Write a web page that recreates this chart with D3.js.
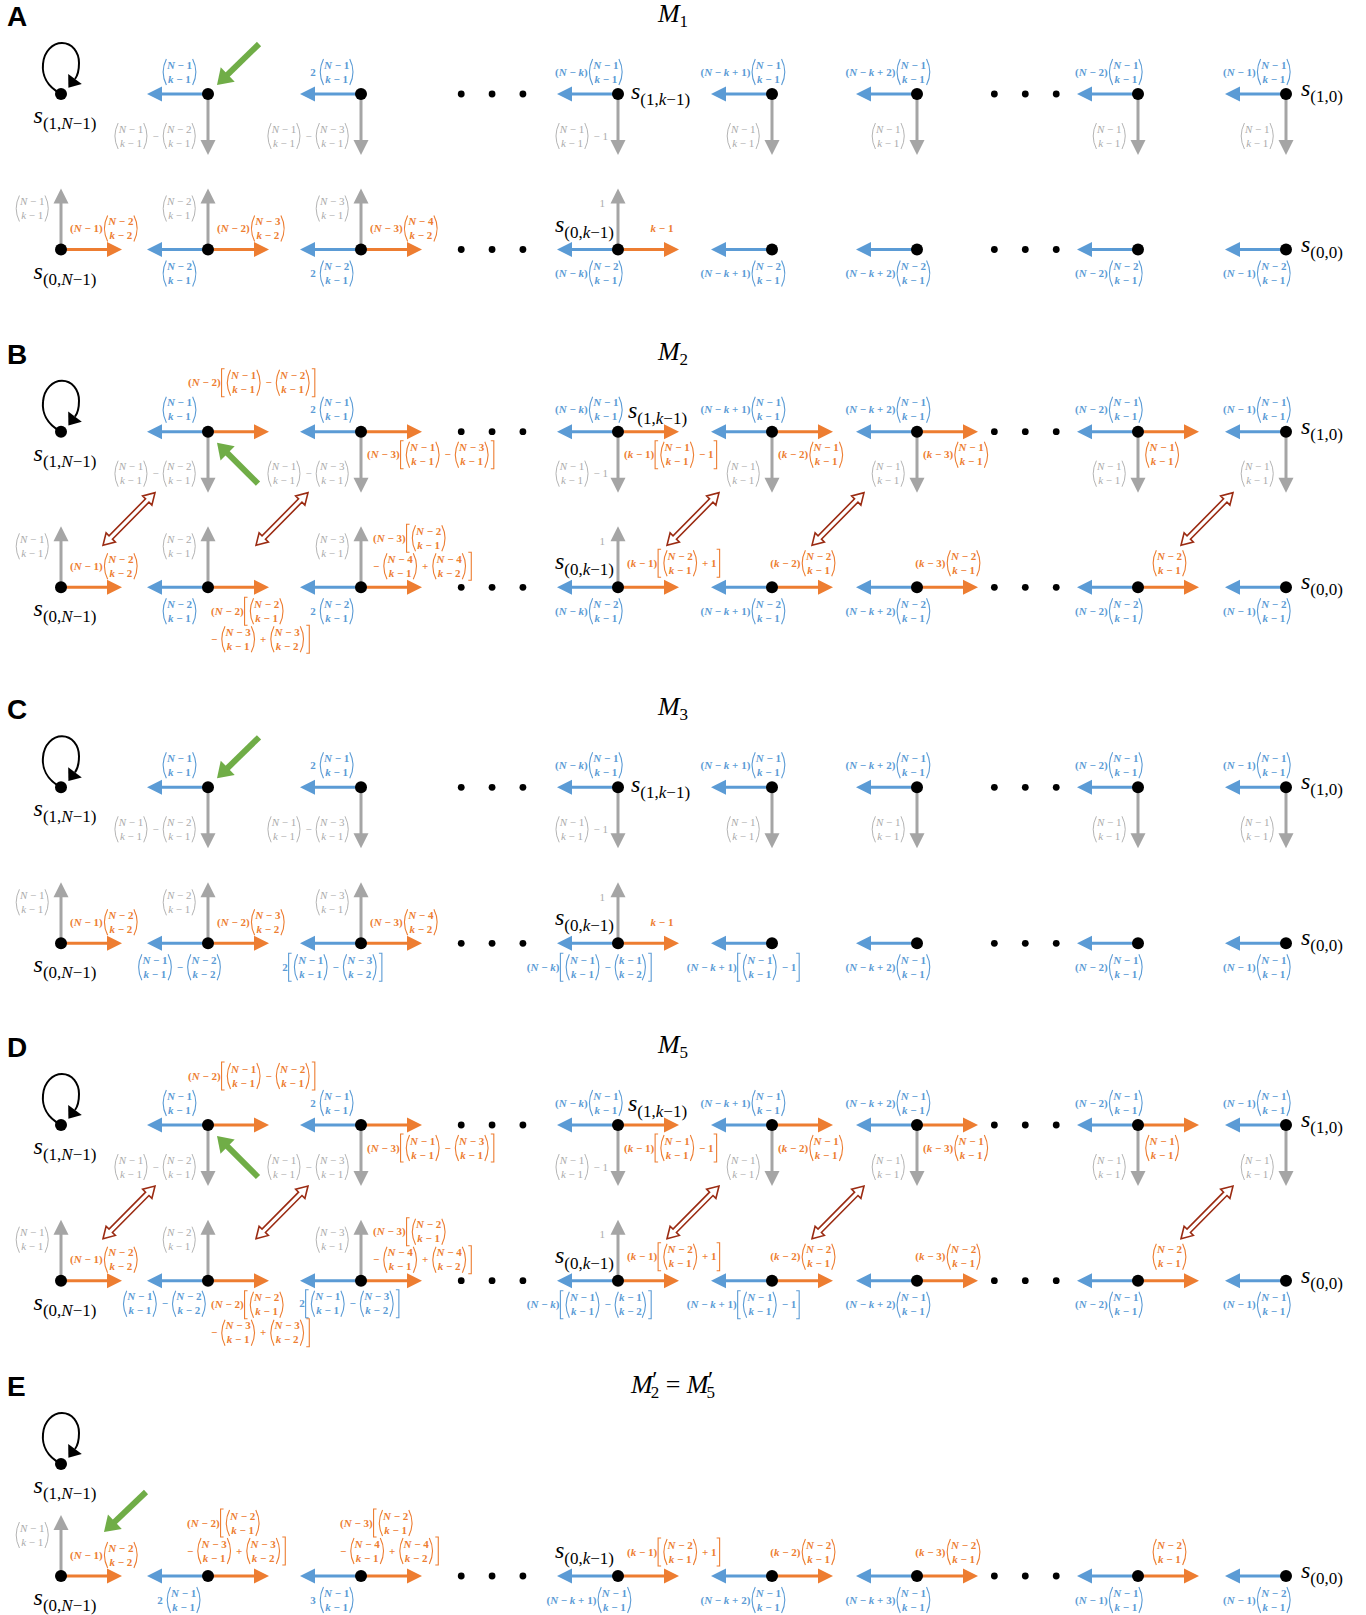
<!DOCTYPE html>
<html>
<head>
<meta charset="utf-8">
<script src="https://cdn.jsdelivr.net/npm/d3@7"></script>
<style>
  html, body { margin: 0; padding: 0; background: #fff; }
  svg text { white-space: pre; }
</style>
</head>
<body>
<svg id="fig" width="1366" height="1615"></svg>
<script>
// ---------------- data ----------------
const panelIds = ["A", "B", "C", "D", "E"];
const titleSubs = ["1", "2", "3", "5", null];          // M_i ; E carries M'2 = M'5
const columns = ["N−1", "N−2", "N−3", "k−1", "k−2", "k−3", "1", "0"];

// arrows leaving each state: O self loop, L blue (left), R orange (right), D/U grey (down/up)
const topArrows = [
  ["O", "LD", "LD", "LD", "LD", "LD", "LD", "LD"],
  ["O", "LRD", "LRD", "LRD", "LRD", "LRD", "LRD", "LD"],
  ["O", "LD", "LD", "LD", "LD", "LD", "LD", "LD"],
  ["O", "LRD", "LRD", "LRD", "LRD", "LRD", "LRD", "LD"],
  ["O", null, null, null, null, null, null, null]
];
const bottomArrows = [
  ["UR", "ULR", "ULR", "ULR", "L", "L", "L", "L"],
  ["UR", "ULR", "ULR", "ULR", "LR", "LR", "LR", "L"],
  ["UR", "ULR", "ULR", "ULR", "L", "L", "L", "L"],
  ["UR", "ULR", "ULR", "ULR", "LR", "LR", "LR", "L"],
  ["UR", "LR", "LR", "LR", "LR", "LR", "LR", "L"]
];

// paired transitions (left column, right column)
const pairedCols = [[0, 1], [1, 2], [3, 4], [4, 5], [6, 7]];
const pairedPanels = [false, true, false, true, false];
// highlighted state per panel: row, column, approach
const highlight = [["t", 1, "ne"], ["t", 1, "se"], ["t", 1, "ne"], ["t", 1, "se"], ["b", 0, "far"]];

// state names: row, column, placement, subscript
const stateNames4 = [
  ["t", 0, "below", "(1,N−1)"], ["b", 0, "below", "(0,N−1)"],
  ["b", 3, "leftUp", "(0,k−1)"], ["t", 7, "right0", "(1,0)"], ["b", 7, "right0", "(0,0)"]
];
const stateNamesE = [
  ["t", 0, "below", "(1,N−1)"], ["b", 0, "below", "(0,N−1)"],
  ["b", 3, "leftUp", "(0,k−1)"], ["b", 7, "right0", "(0,0)"]
];

// rate labels: row, column, placement, expression ({a;b} = binomial)
const topRates = [
  ["t", 1, "bUp", "{N − 1;k − 1}"],
  ["t", 1, "gDown", "{N − 1;k − 1} − {N − 2;k − 1}"],
  ["t", 2, "bUp", "2 {N − 1;k − 1}"],
  ["t", 2, "gDown", "{N − 1;k − 1} − {N − 3;k − 1}"],
  ["t", 3, "bUp", "(N − k){N − 1;k − 1}"],
  ["t", 3, "gDown", "{N − 1;k − 1} − 1"],
  ["t", 4, "bUp", "(N − k + 1){N − 1;k − 1}"],
  ["t", 4, "gDown", "{N − 1;k − 1}"],
  ["t", 5, "bUp", "(N − k + 2){N − 1;k − 1}"],
  ["t", 5, "gDown", "{N − 1;k − 1}"],
  ["t", 6, "bUp", "(N − 2){N − 1;k − 1}"],
  ["t", 6, "gDown", "{N − 1;k − 1}"],
  ["t", 7, "bUp", "(N − 1){N − 1;k − 1}"],
  ["t", 7, "gDown", "{N − 1;k − 1}"]
];
const topRatesRight = [
  ["t", 1, "oHigh", "(N − 2)[{N − 1;k − 1} − {N − 2;k − 1}]"],
  ["t", 2, "oDown", "(N − 3)[{N − 1;k − 1} − {N − 3;k − 1}]"],
  ["t", 3, "oDown", "(k − 1)[{N − 1;k − 1} − 1]"],
  ["t", 4, "oDown", "(k − 2){N − 1;k − 1}"],
  ["t", 5, "oDown", "(k − 3){N − 1;k − 1}"],
  ["t", 6, "oDown", "{N − 1;k − 1}"]
];
const bottomM1 = [
  ["b", 0, "gUp", "{N − 1;k − 1}"],
  ["b", 0, "oUp", "(N − 1){N − 2;k − 2}"],
  ["b", 1, "gUp", "{N − 2;k − 1}"],
  ["b", 1, "bDown", "{N − 2;k − 1}"],
  ["b", 1, "oUp", "(N − 2){N − 3;k − 2}"],
  ["b", 2, "gUp", "{N − 3;k − 1}"],
  ["b", 2, "bDown", "2 {N − 2;k − 1}"],
  ["b", 2, "oUp", "(N − 3){N − 4;k − 2}"],
  ["b", 3, "gOne", "1"],
  ["b", 3, "oUp", "k − 1"],
  ["b", 3, "bDown", "(N − k){N − 2;k − 1}"],
  ["b", 4, "bDown", "(N − k + 1){N − 2;k − 1}"],
  ["b", 5, "bDown", "(N − k + 2){N − 2;k − 1}"],
  ["b", 6, "bDown", "(N − 2){N − 2;k − 1}"],
  ["b", 7, "bDown", "(N − 1){N − 2;k − 1}"]
];
const bottomM2 = [
  ["b", 0, "gUp", "{N − 1;k − 1}"],
  ["b", 0, "oUp", "(N − 1){N − 2;k − 2}"],
  ["b", 1, "gUp", "{N − 2;k − 1}"],
  ["b", 1, "bDown", "{N − 2;k − 1}"],
  ["b", 1, "oDown2", "(N − 2)[{N − 2;k − 1}\n− {N − 3;k − 1} + {N − 3;k − 2}]"],
  ["b", 2, "gUp", "{N − 3;k − 1}"],
  ["b", 2, "bDown", "2 {N − 2;k − 1}"],
  ["b", 2, "oUp2", "(N − 3)[{N − 2;k − 1}\n− {N − 4;k − 1} + {N − 4;k − 2}]"],
  ["b", 3, "gOne", "1"],
  ["b", 3, "bDown", "(N − k){N − 2;k − 1}"],
  ["b", 3, "oUpS", "(k − 1)[{N − 2;k − 1} + 1]"],
  ["b", 4, "bDown", "(N − k + 1){N − 2;k − 1}"],
  ["b", 4, "oUpB", "(k − 2){N − 2;k − 1}"],
  ["b", 5, "bDown", "(N − k + 2){N − 2;k − 1}"],
  ["b", 5, "oUpB", "(k − 3){N − 2;k − 1}"],
  ["b", 6, "bDown", "(N − 2){N − 2;k − 1}"],
  ["b", 6, "oUpB", "{N − 2;k − 1}"],
  ["b", 7, "bDown", "(N − 1){N − 2;k − 1}"]
];
const bottomM3 = [
  ["b", 0, "gUp", "{N − 1;k − 1}"],
  ["b", 0, "oUp", "(N − 1){N − 2;k − 2}"],
  ["b", 1, "gUp", "{N − 2;k − 1}"],
  ["b", 1, "oUp", "(N − 2){N − 3;k − 2}"],
  ["b", 1, "bDown", "{N − 1;k − 1} − {N − 2;k − 2}"],
  ["b", 2, "gUp", "{N − 3;k − 1}"],
  ["b", 2, "oUp", "(N − 3){N − 4;k − 2}"],
  ["b", 2, "bDown", "2[{N − 1;k − 1} − {N − 3;k − 2}]"],
  ["b", 3, "gOne", "1"],
  ["b", 3, "oUp", "k − 1"],
  ["b", 3, "bDown", "(N − k)[{N − 1;k − 1} − {k − 1;k − 2}]"],
  ["b", 4, "bDown", "(N − k + 1)[{N − 1;k − 1} − 1]"],
  ["b", 5, "bDown", "(N − k + 2){N − 1;k − 1}"],
  ["b", 6, "bDown", "(N − 2){N − 1;k − 1}"],
  ["b", 7, "bDown", "(N − 1){N − 1;k − 1}"]
];
const bottomM5 = [
  ["b", 0, "gUp", "{N − 1;k − 1}"],
  ["b", 0, "oUp", "(N − 1){N − 2;k − 2}"],
  ["b", 1, "gUp", "{N − 2;k − 1}"],
  ["b", 1, "bDownL", "{N − 1;k − 1} − {N − 2;k − 2}"],
  ["b", 1, "oDown2", "(N − 2)[{N − 2;k − 1}\n− {N − 3;k − 1} + {N − 3;k − 2}]"],
  ["b", 2, "gUp", "{N − 3;k − 1}"],
  ["b", 2, "bDownR", "2[{N − 1;k − 1} − {N − 3;k − 2}]"],
  ["b", 2, "oUp2", "(N − 3)[{N − 2;k − 1}\n− {N − 4;k − 1} + {N − 4;k − 2}]"],
  ["b", 3, "gOne", "1"],
  ["b", 3, "bDown", "(N − k)[{N − 1;k − 1} − {k − 1;k − 2}]"],
  ["b", 3, "oUpS", "(k − 1)[{N − 2;k − 1} + 1]"],
  ["b", 4, "bDown", "(N − k + 1)[{N − 1;k − 1} − 1]"],
  ["b", 4, "oUpB", "(k − 2){N − 2;k − 1}"],
  ["b", 5, "bDown", "(N − k + 2){N − 1;k − 1}"],
  ["b", 5, "oUpB", "(k − 3){N − 2;k − 1}"],
  ["b", 6, "bDown", "(N − 2){N − 1;k − 1}"],
  ["b", 6, "oUpB", "{N − 2;k − 1}"],
  ["b", 7, "bDown", "(N − 1){N − 1;k − 1}"]
];
const bottomE = [
  ["b", 0, "gUp", "{N − 1;k − 1}"],
  ["b", 0, "oUp", "(N − 1){N − 2;k − 2}"],
  ["b", 1, "bDown", "2 {N − 1;k − 1}"],
  ["b", 1, "oUp2L", "(N − 2)[{N − 2;k − 1}\n− {N − 3;k − 1} + {N − 3;k − 2}]"],
  ["b", 2, "bDown", "3 {N − 1;k − 1}"],
  ["b", 2, "oUp2L", "(N − 3)[{N − 2;k − 1}\n− {N − 4;k − 1} + {N − 4;k − 2}]"],
  ["b", 3, "bDown", "(N − k + 1){N − 1;k − 1}"],
  ["b", 3, "oUpS", "(k − 1)[{N − 2;k − 1} + 1]"],
  ["b", 4, "bDown", "(N − k + 2){N − 1;k − 1}"],
  ["b", 4, "oUpB", "(k − 2){N − 2;k − 1}"],
  ["b", 5, "bDown", "(N − k + 3){N − 1;k − 1}"],
  ["b", 5, "oUpB", "(k − 3){N − 2;k − 1}"],
  ["b", 6, "bDown", "(N − 1){N − 1;k − 1}"],
  ["b", 6, "oUpB", "{N − 2;k − 1}"],
  ["b", 7, "bDown", "(N − 1){N − 2;k − 1}"]
];

const panelRates = [
  topRates.concat(bottomM1),
  topRates.concat(topRatesRight, bottomM2),
  topRates.concat(bottomM3),
  topRates.concat(topRatesRight, bottomM5),
  bottomE
];
const panelStateNames = [stateNames4, stateNames4, stateNames4, stateNames4, stateNamesE];
const kStatePlace = ["right", "rightUp", "right", "rightUp", null];

// ---------------- layout ----------------
const W = 1366;
const BLUE = "#5B9BD5", ORANGE = "#ED7D31", GREY = "#A5A5A5", GREEN = "#70AD47", RED = "#9B2B12";
const GREY_TEXT = "#ABABAB";
const MATH = "'Liberation Serif','DejaVu Serif',serif";
const SANS = "'Liberation Sans',Arial,sans-serif";
const FS = 11;

const x = d3.scaleLinear().domain(d3.range(columns.length)).range([61, 208, 361, 618, 772, 917, 1138, 1286]);
const dotSlots = [2.39, 2.51, 2.63, 5.35, 5.49, 5.63];
const panelTopY = [94, 431.7, 787.3, 1125, 1464];
const rowGap = [155.5, 155.6, 156, 155.7, 112];
const ARROW_LEN = 61;

const place = {
  bUp:    { c: "b", a: "middle", dx: -28, dy: -22 },
  bDown:  { c: "b", a: "middle", dx: -28, dy: 24 },
  bDownL: { c: "b", a: "end",    dx: 0,   dy: 23 },
  bDownR: { c: "b", a: "middle", dx: -11, dy: 23 },
  gDown:  { c: "g", a: "end",    dx: -10, dy: 42 },
  gUp:    { c: "g", a: "end",    dx: -10, dy: -41 },
  gOne:   { c: "g", a: "end",    dx: -13, dy: -46 },
  oUp:    { c: "o", a: "middle", dx: 44,  dy: -21 },
  oUpB:   { c: "o", a: "middle", dx: 32,  dy: -24 },
  oUpS:   { c: "o", a: "start",  dx: 9,   dy: -24 },
  oDown:  { c: "o", a: "start",  dx: 6,   dy: 23 },
  oHigh:  { c: "o", a: "start",  dx: -20, dy: -49 },
  oDown2: { c: "o", a: "start",  dx: 3,   dy: 24 },
  oUp2:   { c: "o", a: "start",  dx: 12,  dy: -49 },
  oUp2L:  { c: "o", a: "start",  dx: -21, dy: -53 }
};
const styles = {
  b: { color: BLUE, weight: "bold", sw: 1.1 },
  o: { color: ORANGE, weight: "bold", sw: 1.1 },
  g: { color: GREY_TEXT, weight: "normal", sw: 0.9 }
};
const statePlace = {
  below:   { a: "middle", dx: 4,  dy: 29 },
  right:   { a: "start",  dx: 13, dy: 5 },
  rightUp: { a: "start",  dx: 10, dy: -14 },
  leftUp:  { a: "end",    dx: -4, dy: -18 },
  right0:  { a: "start",  dx: 15, dy: 2 }
};
const greenPlace = {
  ne:  { tx: 51, ty: -50, hx: 9,  hy: -9 },
  se:  { tx: 50, ty: 52,  hx: 9,  hy: 11 },
  far: { tx: 85, ty: -84, hx: 43, hy: -44 }
};

const svg = d3.select("#fig");
svg.append("rect").attr("width", W).attr("height", 1615).attr("fill", "#fff");

// ---------------- helpers ----------------
function arrow(g, x1, y1, x2, y2, color, sw, hl, hw) {
  const dx = x2 - x1, dy = y2 - y1, L = Math.hypot(dx, dy), ux = dx / L, uy = dy / L;
  const bx = x2 - ux * hl, by = y2 - uy * hl;
  g.append("line").attr("x1", x1).attr("y1", y1).attr("x2", bx + ux).attr("y2", by + uy)
    .attr("stroke", color).attr("stroke-width", sw);
  g.append("path")
    .attr("d", `M${x2},${y2}L${bx - uy * hw},${by + ux * hw}L${bx + uy * hw},${by - ux * hw}Z`)
    .attr("fill", color);
}

function selfLoop(g, nx, ny) {
  const p = d3.path();
  p.moveTo(nx, ny);
  p.bezierCurveTo(nx - 15, ny - 8, nx - 19, ny - 20, nx - 18, ny - 30);
  p.bezierCurveTo(nx - 17, ny - 43, nx - 8, ny - 51, nx + 1, ny - 51);
  p.bezierCurveTo(nx + 11, ny - 51, nx + 18, ny - 42, nx + 18, ny - 31);
  p.bezierCurveTo(nx + 18, ny - 24, nx + 17, ny - 19, nx + 14, ny - 15);
  g.append("path").attr("d", p.toString()).attr("fill", "none").attr("stroke", "#000").attr("stroke-width", 2);
  const ux = -0.6, uy = 0.8, ex = nx + 14, ey = ny - 15, hl = 11, hw = 8.5;
  const tx = ex + ux * hl, ty = ey + uy * hl;
  g.append("path").attr("d", `M${tx},${ty}L${ex - uy * hw},${ey + ux * hw}L${ex + uy * hw},${ey - ux * hw}Z`).attr("fill", "#000");
}

function doubleArrow(g, x1, y1, x2, y2) {
  const L = Math.hypot(x2 - x1, y2 - y1), ang = Math.atan2(y2 - y1, x2 - x1) * 180 / Math.PI;
  const s = 2.4, h = 11, w = 6.5;
  const pts = [[0, 0], [h, w], [h, s], [L - h, s], [L - h, w], [L, 0], [L - h, -w], [L - h, -s], [h, -s], [h, -w]];
  g.append("path")
    .attr("d", "M" + pts.map(q => q.join(",")).join("L") + "Z")
    .attr("transform", `translate(${x1},${y1}) rotate(${ang})`)
    .attr("fill", "#fff").attr("stroke", RED).attr("stroke-width", 1.6).attr("stroke-linejoin", "miter");
}

function parseExpr(s) {
  const toks = [];
  let buf = "", i = 0;
  const flush = () => { if (buf) { toks.push({ t: "txt", v: buf }); buf = ""; } };
  while (i < s.length) {
    const c = s[i];
    if (c === "{") {
      flush();
      const j = s.indexOf("}", i);
      const [a, b] = s.slice(i + 1, j).split(";");
      toks.push({ t: "bin", a, b });
      i = j + 1;
      continue;
    }
    if (c === "[" || c === "]") { flush(); toks.push({ t: c }); i++; continue; }
    buf += c; i++;
  }
  flush();
  return toks;
}

function mathText(parent, str, tx, ty, anchor, st, size) {
  const t = parent.append("text").attr("x", tx).attr("y", ty).attr("text-anchor", anchor)
    .attr("font-family", MATH).attr("font-size", size || FS).attr("font-weight", st.weight).attr("fill", st.color);
  str.split(/([A-Za-z]+)/).forEach(part => {
    if (!part) return;
    const ts = t.append("tspan").text(part);
    if (/[A-Za-z]/.test(part)) ts.attr("font-style", "italic");
  });
  return t;
}

function paren(g, x0, right, st) {
  const PH = 13, PW = 5;
  const d = right
    ? `M${x0},${-PH}Q${x0 + PW + 1.5},0 ${x0},${PH}`
    : `M${x0 + PW},${-PH}Q${x0 - 1.5},0 ${x0 + PW},${PH}`;
  g.append("path").attr("d", d).attr("fill", "none").attr("stroke", st.color).attr("stroke-width", st.sw);
}

function bracket(g, x0, right, st) {
  const H = 14;
  const d = right
    ? `M${x0},${-H}H${x0 + 3}V${H}H${x0}`
    : `M${x0 + 4},${-H}H${x0 + 1}V${H}H${x0 + 4}`;
  g.append("path").attr("d", d).attr("fill", "none").attr("stroke", st.color).attr("stroke-width", st.sw);
}

function layoutLine(g, toks, st) {
  const base = FS * 0.34, LO = 7, PW = 5;
  let cx = 0;
  toks.forEach(tk => {
    if (tk.t === "txt") {
      const t = mathText(g, tk.v, cx, base, "start", st);
      cx += t.node().getComputedTextLength();
    } else if (tk.t === "bin") {
      const ta = mathText(g, tk.a, 0, -LO + base, "middle", st);
      const tb = mathText(g, tk.b, 0, LO + base, "middle", st);
      const w = Math.max(ta.node().getComputedTextLength(), tb.node().getComputedTextLength());
      paren(g, cx, false, st);
      ta.attr("x", cx + PW + 0.5 + w / 2);
      tb.attr("x", cx + PW + 0.5 + w / 2);
      paren(g, cx + PW + 1 + w, true, st);
      cx += 2 * PW + 2 + w;
    } else {
      bracket(g, cx, tk.t === "]", st);
      cx += 5;
    }
  });
  return cx;
}

function rateLabel(g, nx, ny, kind, expr) {
  const pl = place[kind], st = styles[pl.c];
  expr.split("\n").forEach((line, li) => {
    const lg = g.append("g");
    const w = layoutLine(lg, parseExpr(line), st);
    const ax = nx + pl.dx - (pl.a === "middle" ? w / 2 : pl.a === "end" ? w : 0);
    lg.attr("transform", `translate(${ax},${ny + pl.dy + li * 28})`);
  });
}

function stateName(g, nx, ny, where, sub) {
  const sp = statePlace[where];
  const t = g.append("text").attr("x", nx + sp.dx).attr("y", ny + sp.dy).attr("text-anchor", sp.a)
    .attr("font-family", MATH).attr("fill", "#000");
  t.append("tspan").attr("font-size", 24).attr("font-style", "italic").text("s");
  const s = t.append("tspan").attr("font-size", 17).attr("dy", 6);
  sub.split(/([A-Za-z])/).forEach(part => {
    if (!part) return;
    const ts = s.append("tspan").text(part);
    if (/[A-Za-z]/.test(part)) ts.attr("font-style", "italic");
  });
}

function primedM(g, x0, base, sub) {
  const m = g.append("text").attr("x", x0).attr("y", base).attr("font-family", MATH)
    .attr("font-size", 26).attr("font-style", "italic").text("M");
  const wm = m.node().getComputedTextLength();
  const pr = g.append("text").attr("x", x0 + wm - 0.5).attr("y", base - 6).attr("font-family", MATH)
    .attr("font-size", 24).text("′");
  const sb = g.append("text").attr("x", x0 + wm - 2).attr("y", base + 5).attr("font-family", MATH)
    .attr("font-size", 17).text(sub);
  return x0 + wm - 2 + Math.max(sb.node().getComputedTextLength(), pr.node().getComputedTextLength() + 1);
}

// ---------------- drawing ----------------
panelIds.forEach((pid, p) => {
  const yRow = { t: panelTopY[p], b: panelTopY[p] + rowGap[p] };
  const g = svg.append("g").attr("class", "panel-" + pid);
  const arrowsLayer = g.append("g"), nodeLayer = g.append("g"), textLayer = g.append("g");

  // panel letter
  textLayer.append("text").attr("x", 7).attr("y", yRow.t - 68)
    .attr("font-family", SANS).attr("font-weight", "bold").attr("font-size", 28).text(pid);

  // panel title
  if (titleSubs[p] !== null) {
    const t = textLayer.append("text").attr("x", 673).attr("y", yRow.t - 72).attr("text-anchor", "middle")
      .attr("font-family", MATH);
    t.append("tspan").attr("font-size", 26).attr("font-style", "italic").text("M");
    t.append("tspan").attr("font-size", 17).attr("dy", 5).text(titleSubs[p]);
  } else {
    const tg = textLayer.append("g");
    const base = yRow.t - 71;
    let cx = primedM(tg, 0, base, "2");
    const eq = tg.append("text").attr("x", cx).attr("y", base).attr("font-family", MATH)
      .attr("font-size", 26).text(" = ");
    cx += eq.node().getComputedTextLength();
    cx = primedM(tg, cx, base, "5");
    tg.attr("transform", `translate(${673 - cx / 2},0)`);
  }

  // rows: ellipsis dots, transitions, states
  [["t", topArrows[p]], ["b", bottomArrows[p]]].forEach(([r, specs]) => {
    const ny = yRow[r];
    if (specs[2] !== null) {
      dotSlots.forEach(sl => nodeLayer.append("circle").attr("cx", x(sl)).attr("cy", ny).attr("r", 3.4).attr("fill", "#000"));
    }
    specs.forEach((spec, c) => {
      if (spec === null) return;
      const nx = x(c);
      for (const ch of spec) {
        if (ch === "L") arrow(arrowsLayer, nx, ny, nx - ARROW_LEN, ny, BLUE, 3, 15, 7.5);
        if (ch === "R") arrow(arrowsLayer, nx, ny, nx + ARROW_LEN, ny, ORANGE, 3, 15, 7.5);
        if (ch === "D") arrow(arrowsLayer, nx, ny, nx, ny + ARROW_LEN, GREY, 3, 15, 7.5);
        if (ch === "U") arrow(arrowsLayer, nx, ny, nx, ny - ARROW_LEN, GREY, 3, 15, 7.5);
        if (ch === "O") selfLoop(arrowsLayer, nx, ny);
      }
      nodeLayer.append("circle").attr("cx", nx).attr("cy", ny).attr("r", 6).attr("fill", "#000");
    });
  });

  // paired transitions
  if (pairedPanels[p]) {
    pairedCols.forEach(([, b]) => {
      const rx = x(b);
      doubleArrow(arrowsLayer, rx - 105, yRow.b - 42, rx - 53, yRow.t + 61);
    });
  }

  // highlighted state
  const [hr, hc, hk] = highlight[p];
  const gp = greenPlace[hk], hx = x(hc), hy = yRow[hr];
  arrow(arrowsLayer, hx + gp.tx, hy + gp.ty, hx + gp.hx, hy + gp.hy, GREEN, 6, 15, 10);

  // rate labels
  panelRates[p].forEach(([r, c, kind, expr]) => rateLabel(textLayer, x(c), yRow[r], kind, expr));

  // state names
  panelStateNames[p].forEach(([r, c, where, sub]) => stateName(textLayer, x(c), yRow[r], where, sub));
  if (kStatePlace[p]) stateName(textLayer, x(3), yRow.t, kStatePlace[p], "(1,k−1)");
});
</script>
</body>
</html>
